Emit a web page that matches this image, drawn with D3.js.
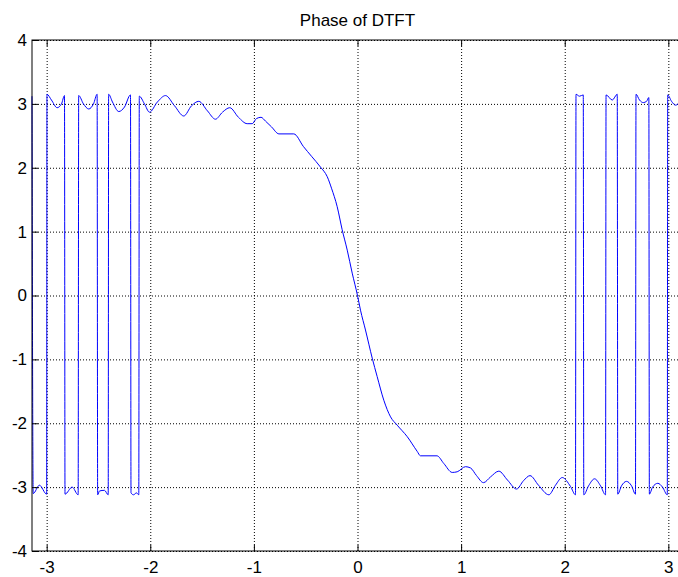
<!DOCTYPE html>
<html lang="en">
<head>
<meta charset="UTF-8">
<script src="https://cdn.jsdelivr.net/npm/d3@7"></script>
<title>Phase of DTFT</title>
<style>
    body { margin: 0; background: #fff; }
    text { font-family: "Liberation Sans", Arial, sans-serif; }
    .grid line { stroke: #000; stroke-dasharray: 1,2; }
    .grid path, .axis path { display: none; }
    .axis line { stroke: #000; }
</style>
</head>
<body>
<div id="chart"></div>
<script>
    var xTicks = [-3, -2, -1, 0, 1, 2, 3];
    var yTicks = [-4, -3, -2, -1, 0, 1, 2, 3, 4];

    // frequency (rad) and phase values
    var omega = [
        -3.1416, -3.130, -3.070, -3.000, -2.997, -2.954, -2.899, -2.857, -2.828,
        -2.823, -2.754, -2.696, -2.691, -2.645, -2.594, -2.548, -2.513,
        -2.508, -2.490, -2.442, -2.406, -2.402, -2.365, -2.304, -2.249, -2.191,
        -2.186, -2.162, -2.133, -2.111, -2.106, -2.056, -2.008, -1.931, -1.853,
        -1.766, -1.677, -1.602, -1.532, -1.448, -1.371, -1.303, -1.233, -1.149,
        -1.065, -1.016, -0.975, -0.931, -0.888, -0.830, -0.758, -0.615, -0.521,
        -0.444, -0.357, -0.292, -0.251, -0.196, -0.148, -0.099, -0.051, 0.000,
        0.029, 0.077, 0.142, 0.190, 0.254, 0.319, 0.383, 0.480, 0.576, 0.608,
        0.767, 0.833, 0.914, 0.962, 1.042, 1.091, 1.149, 1.216, 1.284, 1.364,
        1.448, 1.535, 1.602, 1.665, 1.747, 1.847, 1.911, 1.976, 2.056, 2.104,
        2.109, 2.143, 2.179, 2.184, 2.230, 2.288, 2.346, 2.394, 2.399, 2.459,
        2.507, 2.512, 2.548, 2.596, 2.645, 2.683, 2.688, 2.722, 2.758, 2.790,
        2.812, 2.817, 2.848, 2.899, 2.944, 2.990, 2.994, 3.031, 3.070, 3.108,
        3.1416
    ];
    var phase = [
        3.12, -3.10, -2.97, -3.11, 3.15, 3.06, 2.94, 3.00, 3.13,
        -3.11, -3.00, -3.12, 3.13, 3.00, 2.92, 3.00, 3.15,
        -3.12, -3.06, -3.05, -3.12, 3.15, 3.03, 2.88, 2.95, 3.14,
        -3.09, -3.12, -3.09, -3.12, 3.12, 3.00, 2.87, 3.03, 3.13,
        2.97, 2.81, 2.97, 3.04, 2.89, 2.76, 2.87, 2.94, 2.79,
        2.69, 2.69, 2.77, 2.79, 2.73, 2.64, 2.53, 2.53, 2.33,
        2.18, 2.01, 1.86, 1.68, 1.39, 1.03, 0.71, 0.35, 0.00,
        -0.23, -0.54, -0.98, -1.27, -1.64, -1.90, -2.03, -2.21, -2.44, -2.51,
        -2.51, -2.63, -2.77, -2.76, -2.68, -2.70, -2.82, -2.93, -2.84, -2.75,
        -2.89, -3.03, -2.90, -2.82, -2.97, -3.12, -2.97, -2.85, -2.99, -3.12,
        3.15, 3.12, 3.14, -3.12, -2.98, -2.87, -2.98, -3.12, 3.14, 3.06,
        3.15, -3.11, -2.98, -2.91, -2.98, -3.11, 3.15, 3.06, 3.02, 3.04,
        3.10, -3.11, -3.00, -2.94, -3.00, -3.12, 3.14, 3.04, 2.98, 3.03,
        3.14
    ];

    var width = 678, height = 577;
    var pLeft = 32, pRight = 683, pTop = 40, pBottom = 551;

    var x = d3.scaleLinear().domain([-Math.PI, Math.PI]).range([pLeft, pRight]);
    var y = d3.scaleLinear().domain([-4, 4]).range([pBottom, pTop]);

    var svg = d3.select("#chart").append("svg")
        .attr("width", width)
        .attr("height", height);

    // grid
    svg.append("g")
        .attr("class", "grid")
        .attr("transform", "translate(0," + pBottom + ")")
        .call(d3.axisBottom(x).tickValues(xTicks).tickSize(-(pBottom - pTop)).tickFormat(""));
    svg.append("g")
        .attr("class", "grid")
        .attr("transform", "translate(" + pLeft + ",0)")
        .call(d3.axisLeft(y).tickValues(yTicks).tickSize(-(pRight - pLeft)).tickFormat(""));

    // the curve
    var line = d3.line()
        .x(function (d, i) { return x(omega[i]); })
        .y(function (d) { return y(d); })
        .curve(d3.curveMonotoneX);
    svg.append("path")
        .datum(phase)
        .attr("d", line)
        .attr("fill", "none")
        .attr("stroke", "#0000ff")
        .attr("stroke-width", 1);

    // box
    svg.append("rect")
        .attr("x", pLeft).attr("y", pTop)
        .attr("width", pRight - pLeft).attr("height", pBottom - pTop)
        .attr("fill", "none").attr("stroke", "#000").attr("stroke-width", 1);

    // axes with inward ticks
    svg.append("g")
        .attr("class", "axis")
        .attr("transform", "translate(0," + pBottom + ")")
        .call(d3.axisBottom(x).tickValues(xTicks).tickSizeInner(-6).tickSizeOuter(0)
            .tickPadding(10).tickFormat(function (d) { return String(d); }))
        .selectAll("text").attr("font-size", 17).attr("fill", "#000")
        .attr("font-family", "Liberation Sans, Arial, sans-serif");
    svg.append("g")
        .attr("class", "axis")
        .attr("transform", "translate(0," + pTop + ")")
        .call(d3.axisTop(x).tickValues(xTicks).tickSizeInner(-6).tickSizeOuter(0).tickFormat(""));
    svg.append("g")
        .attr("class", "axis")
        .attr("transform", "translate(" + pLeft + ",0)")
        .call(d3.axisLeft(y).tickValues(yTicks).tickSizeInner(-6).tickSizeOuter(0)
            .tickPadding(5).tickFormat(function (d) { return String(d); }))
        .selectAll("text").attr("font-size", 17).attr("fill", "#000")
        .attr("font-family", "Liberation Sans, Arial, sans-serif");

    svg.append("text")
        .attr("x", x(0))
        .attr("y", 26)
        .attr("text-anchor", "middle")
        .attr("font-size", 17)
        .text("Phase of DTFT");
</script>
</body>
</html>
